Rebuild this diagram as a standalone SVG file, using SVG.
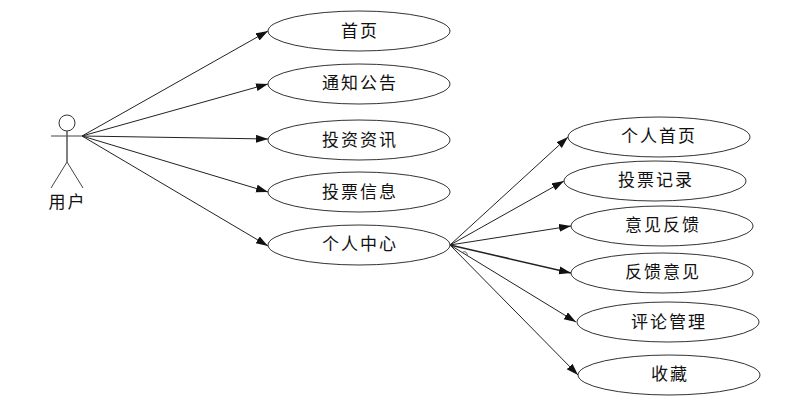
<svg xmlns="http://www.w3.org/2000/svg" width="789" height="410" viewBox="0 0 789 410">
<style>
text{font-family:"Noto Sans CJK SC","Noto Sans",sans-serif;font-size:17px;fill:#111;text-anchor:middle;letter-spacing:2px}
ellipse{fill:#fff;stroke:#333;stroke-width:1}
.c{stroke:#222;stroke-width:1;fill:none;marker-end:url(#a)}
.s{stroke:#444;stroke-width:1;fill:none}
</style>
<defs><marker id="a" markerUnits="userSpaceOnUse" markerWidth="12" markerHeight="10" refX="12" refY="4" orient="auto"><path d="M0 0L12 4L0 8Z" fill="#111"/></marker></defs>
<rect width="789" height="410" fill="#fff"/>
<g id="connectors">
<path class="c" d="M82 136L268 31"/>
<path class="c" d="M82 136L268 84"/>
<path class="c" d="M82 136L268 139"/>
<path class="c" d="M82 136L268 192"/>
<path class="c" d="M82 136L268 246"/>
<path class="c" d="M450 245L568 137"/>
<path class="c" d="M450 245L564 181"/>
<path class="c" d="M450 245L571 226"/>
<path class="c" d="M450 245L571 273" style="stroke-width:1.5"/>
<path class="c" d="M450 245L576 322"/>
<path class="c" d="M450 245L578 375"/>
<path d="M463 252a3 3 0 0 1 4 4" fill="none" stroke="#666" stroke-width="1"/>
</g>
<g id="actor">
<circle cx="67" cy="123" r="8" fill="#fff" stroke="#333"/>
<path class="s" d="M51 136H83M67 162L51 188M67 162L83 188"/>
<path d="M67 131V162" stroke="#555" stroke-width="1.5" fill="none"/>
<text x="67.500" y="208">用户</text>
</g>
<g id="n1"><ellipse cx="359" cy="31" rx="91" ry="20"/><text x="360" y="37">首页</text></g>
<g id="n2"><ellipse cx="359" cy="84" rx="91" ry="20"/><text x="360" y="89">通知公告</text></g>
<g id="n3"><ellipse cx="359" cy="140" rx="91" ry="20"/><text x="360" y="146">投资资讯</text></g>
<g id="n4"><ellipse cx="359" cy="192" rx="91" ry="20"/><text x="360" y="198">投票信息</text></g>
<g id="n5"><ellipse cx="359" cy="245" rx="91" ry="20"/><text x="360" y="250">个人中心</text></g>
<g id="n6"><ellipse cx="659" cy="137" rx="91" ry="20"/><text x="659" y="142">个人首页</text></g>
<g id="n7"><ellipse cx="655" cy="181" rx="91" ry="20"/><text x="656" y="186">投票记录</text></g>
<g id="n8"><ellipse cx="662" cy="226" rx="91" ry="20"/><text x="663" y="231">意见反馈</text></g>
<g id="n9"><ellipse cx="662" cy="273" rx="91" ry="20"/><text x="663" y="278">反馈意见</text></g>
<g id="n10"><ellipse cx="668" cy="322" rx="91" ry="20"/><text x="669" y="328">评论管理</text></g>
<g id="n11"><ellipse cx="669" cy="375" rx="91" ry="20"/><text x="670" y="380">收藏</text></g>
</svg>
